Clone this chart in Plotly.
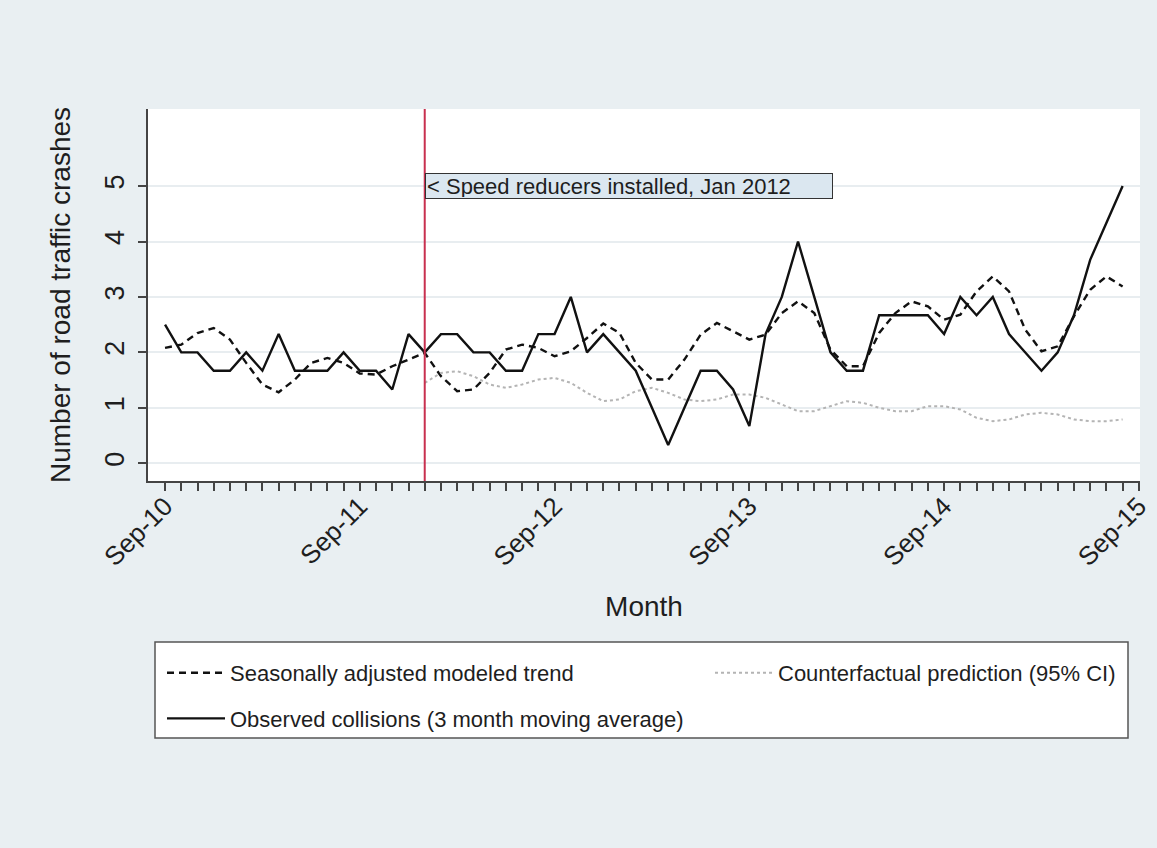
import plotly.graph_objects as go

# ---------------- data ----------------
year_labels = ["Sep-10", "Sep-11", "Sep-12", "Sep-13", "Sep-14", "Sep-15"]
n_months = 60                      # Sep-2010 .. Aug-2015
intervention_month = 16            # Jan 2012 (months after Sep-2010)

observed = [2.5, 2.0, 2.0, 1.67, 1.67, 2.0, 1.67, 2.33, 1.67, 1.67,
            1.67, 2.0, 1.67, 1.67, 1.33, 2.33, 2.0, 2.33, 2.33, 2.0,
            2.0, 1.67, 1.67, 2.33, 2.33, 3.0, 2.0, 2.33, 2.0, 1.67,
            1.0, 0.33, 1.0, 1.67, 1.67, 1.33, 0.67, 2.33, 3.0, 4.0,
            3.0, 2.0, 1.67, 1.67, 2.67, 2.67, 2.67, 2.67, 2.33, 3.0,
            2.67, 3.0, 2.33, 2.0, 1.67, 2.0, 2.67, 3.67, 4.33, 5.0]

trend = [2.08, 2.14, 2.35, 2.44, 2.23, 1.81, 1.42, 1.28, 1.51, 1.81,
         1.90, 1.81, 1.62, 1.60, 1.75, 1.87, 1.99, 1.57, 1.30, 1.33,
         1.63, 2.05, 2.14, 2.08, 1.93, 2.02, 2.26, 2.52, 2.35, 1.81,
         1.51, 1.51, 1.87, 2.32, 2.53, 2.38, 2.23, 2.32, 2.71, 2.92,
         2.71, 2.05, 1.75, 1.75, 2.35, 2.71, 2.92, 2.83, 2.59, 2.68,
         3.10, 3.37, 3.10, 2.41, 2.02, 2.11, 2.65, 3.13, 3.37, 3.19]

counterfactual = [1.45, 1.63, 1.66, 1.57, 1.42, 1.36, 1.42, 1.51, 1.54, 1.45,
                  1.27, 1.12, 1.15, 1.30, 1.36, 1.27, 1.15, 1.12, 1.15, 1.24,
                  1.24, 1.18, 1.06, 0.94, 0.94, 1.03, 1.12, 1.09, 1.00, 0.94,
                  0.94, 1.03, 1.03, 0.97, 0.82, 0.76, 0.79, 0.88, 0.91, 0.88,
                  0.79, 0.76, 0.76, 0.79]

months = list(range(n_months))
cf_months = list(range(intervention_month, n_months))

tick_vals = list(range(n_months + 1))
tick_text = [year_labels[m // 12] if m % 12 == 0 else "" for m in tick_vals]

# ---------------- layout helpers (pixel -> paper) ----------------
W, H = 1157, 848
L, R, T, B = 148, 1140, 109, 481
PW, PH = R - L, B - T


def px_x(p):
    return (p - L) / PW


def px_y(p):
    return (B - p) / PH


FONT = "Liberation Sans, Arial, Helvetica, sans-serif"
TXT = "#1e1e1e"

fig = go.Figure()

fig.add_trace(go.Scatter(
    x=months, y=trend, mode="lines",
    name="Seasonally adjusted modeled trend",
    line=dict(color="#111111", width=2.4, dash="7px,5px"),
    legend="legend", legendgroup="a", legendrank=1,
))
fig.add_trace(go.Scatter(
    x=cf_months, y=counterfactual, mode="lines",
    name="Counterfactual prediction (95% CI)",
    line=dict(color="#b4b4b4", width=2, dash="dot"),
    legend="legend2",
))
fig.add_trace(go.Scatter(
    x=months, y=observed, mode="lines",
    name="Observed collisions (3 month moving average)",
    line=dict(color="#111111", width=2.4),
    legend="legend", legendgroup="b", legendrank=2,
))

# legend frame
fig.add_shape(type="rect", xref="paper", yref="paper",
              x0=px_x(155), x1=px_x(1128), y0=px_y(738), y1=px_y(642),
              fillcolor="white", line=dict(color="#555555", width=1.5),
              layer="below")

# intervention line
fig.add_shape(type="line", xref="x", yref="paper",
              x0=intervention_month, x1=intervention_month, y0=0, y1=1,
              line=dict(color="#c8304f", width=2))

fig.add_annotation(
    x=intervention_month, y=5, xref="x", yref="y",
    text="< Speed reducers installed, Jan 2012",
    showarrow=False, xanchor="left", yanchor="middle", align="left",
    width=404, height=22, borderpad=1,
    bgcolor="#dbe7f0", bordercolor="#333333", borderwidth=1,
    font=dict(family=FONT, size=22, color=TXT),
)

fig.update_layout(
    width=W, height=H,
    margin=dict(l=L, r=W - R, t=T, b=H - B, autoexpand=False),
    paper_bgcolor="#e9eff2",
    plot_bgcolor="white",
    font=dict(family=FONT, size=22, color=TXT),
    showlegend=True,
    legend=dict(
        x=px_x(162), y=px_y(652), xref="paper", yref="paper",
        xanchor="left", yanchor="top", orientation="v",
        bgcolor="rgba(0,0,0,0)", borderwidth=0,
        itemwidth=58, tracegroupgap=14,
        font=dict(family=FONT, size=22, color=TXT),
    ),
    legend2=dict(
        x=px_x(710), y=px_y(652), xref="paper", yref="paper",
        xanchor="left", yanchor="top", orientation="v",
        bgcolor="rgba(0,0,0,0)", borderwidth=0,
        itemwidth=58,
        font=dict(family=FONT, size=22, color=TXT),
    ),
    xaxis=dict(
        range=[-1.05, 60.07],
        tickmode="array", tickvals=tick_vals, ticktext=tick_text,
        tickangle=-45, ticks="outside", ticklen=8, tickwidth=1.5,
        tickcolor="#444444", ticklabelstandoff=-10,
        showline=True, linecolor="#444444", linewidth=1.5,
        showgrid=False, zeroline=False,
        tickfont=dict(family=FONT, size=26, color=TXT),
        title=dict(text="Month", standoff=26,
                   font=dict(family=FONT, size=28, color=TXT)),
    ),
    yaxis=dict(
        range=[-0.32, 6.39],
        tickmode="array", tickvals=[0, 1, 2, 3, 4, 5],
        tickangle=-90, ticks="outside", ticklen=8, tickwidth=1.5,
        tickcolor="#444444", ticklabelstandoff=3,
        showline=True, linecolor="#444444", linewidth=1.5,
        showgrid=True, gridcolor="#e8edf0", gridwidth=1.5,
        zeroline=False,
        tickfont=dict(family=FONT, size=27, color=TXT),
        title=dict(text="Number of road traffic crashes", standoff=22,
                   font=dict(family=FONT, size=28, color=TXT)),
    ),
)

fig.write_html("out.html")
